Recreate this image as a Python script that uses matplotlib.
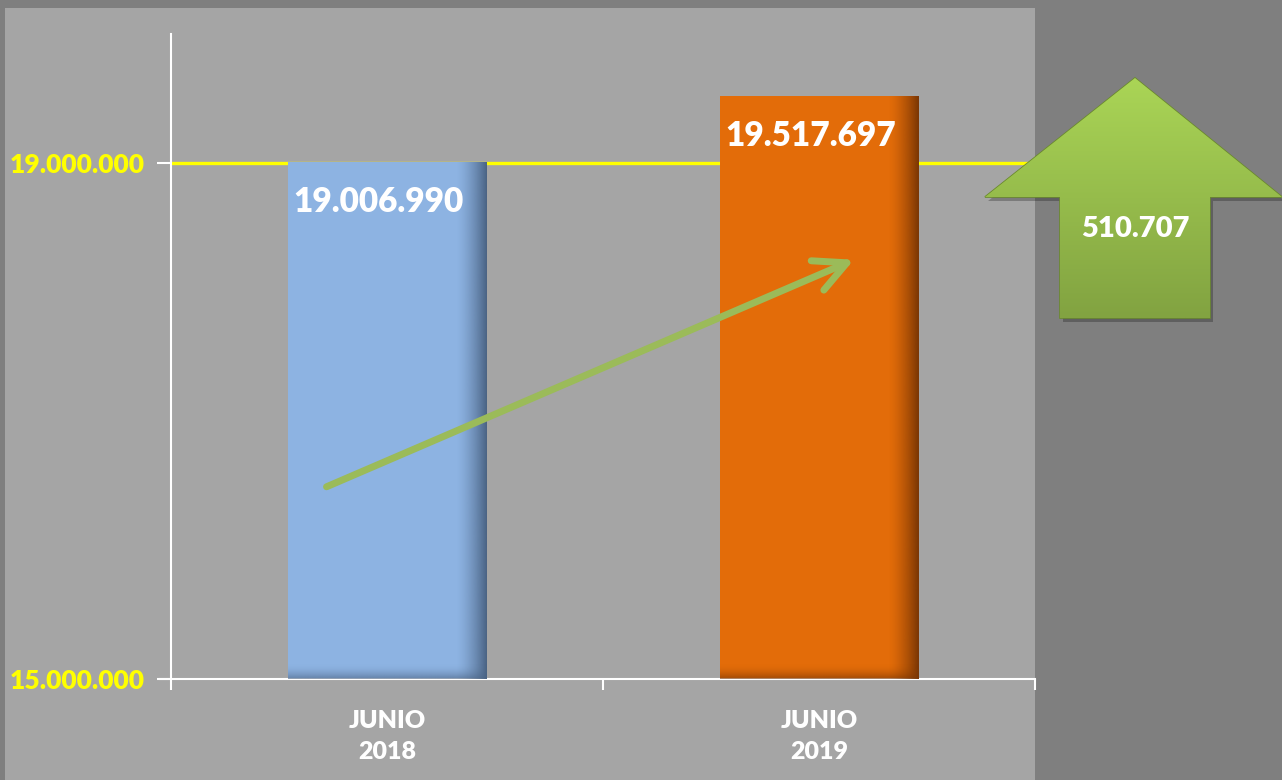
import numpy as np
import matplotlib
matplotlib.use('Agg')
import matplotlib.pyplot as plt
from matplotlib.patches import Polygon, Rectangle

plt.rcParams['font.family'] = ['Lato', 'DejaVu Sans']
plt.rcParams['font.weight'] = 'heavy'

# ── 데이터 ──────────────────────────────────────────────
categories = ['JUNIO\n2018', 'JUNIO\n2019']
values     = [19006990, 19517697]
bar_colors = ['#8db3e2', '#e36c09']
shade_cols = ['#4a6384', '#7a3604']
ref_level  = 19000000
y_ticks    = [15000000, 19000000]
y_min, y_max = 15000000, 20000000

# 추세 화살표 (데이터 좌표)
trend_start = (-0.14, 16490000)
trend_end   = (1.081, 18250000)

W, H = 1282, 780


def fmt(v):
    return f"{v:,}".replace(',', '.')


fig = plt.figure(figsize=(W / 100, H / 100), dpi=100)
fig.patch.set_facecolor('#7f7f7f')

# 배경 패널 (픽셀 좌표)
bg = fig.add_axes([0, 0, 1, 1], zorder=0)
bg.set_xlim(0, W)
bg.set_ylim(H, 0)
bg.axis('off')
bg.add_patch(Rectangle((5, 8), 1030, 780, facecolor='#a5a5a5', edgecolor='none'))

# ── 메인 차트 ──────────────────────────────────────────
left, right = 171 / W, 1035 / W
bottom, top = 1 - 679 / H, 1 - 34 / H
ax = fig.add_axes([left, bottom, right - left, top - bottom], zorder=1)
ax.set_facecolor('none')

x = np.arange(len(categories))
bw = 0.46
ax.axhline(ref_level, color='#ffff00', linewidth=2.4, zorder=1)
ax.bar(x, [v - y_min for v in values], bottom=y_min, width=bw,
       color=bar_colors, zorder=2)

# 막대 오른쪽/아래 음영
for xi, v, sc in zip(x, values, shade_cols):
    rgb = matplotlib.colors.to_rgb(sc)
    grad = np.zeros((1, 64, 4))
    grad[..., :3] = rgb
    grad[0, :, 3] = np.linspace(0, 1, 64) ** 1.5
    ax.imshow(grad, extent=(xi + bw / 2 - 0.07, xi + bw / 2, y_min, v),
              aspect='auto', zorder=3, interpolation='bicubic')
    gb = np.zeros((32, 1, 4))
    gb[..., :3] = rgb
    gb[:, 0, 3] = np.linspace(0, 0.8, 32) ** 2
    ax.imshow(gb, extent=(xi - bw / 2, xi + bw / 2, y_min, y_min + 120000),
              aspect='auto', zorder=3, interpolation='bicubic')
    ax.annotate(fmt(v), xy=(xi, v), xytext=(-6, -29), textcoords='offset points',
                ha='center', va='center', color='white', fontsize=24,
                zorder=5)

ax.annotate('', xy=trend_end, xytext=trend_start,
            arrowprops=dict(arrowstyle='->, head_length=2.3, head_width=1.15',
                            color='#9bbb59', lw=5, shrinkA=0, shrinkB=0,
                            joinstyle='round'), zorder=6)

ax.set_xlim(-0.5, len(categories) - 0.5)
ax.set_ylim(y_min, y_max)
ax.set_yticks(y_ticks)
ax.set_yticklabels([fmt(t) for t in y_ticks])
ax.set_xticks(x)
ax.set_xticklabels(categories, linespacing=1.5)
ax.set_xticks([-0.5, 0.5, 1.5], minor=True)
ax.tick_params(axis='x', which='major', length=0, pad=22, labelsize=18,
               labelcolor='white')
ax.tick_params(axis='x', which='minor', length=8, width=1.5, color='white')
ax.tick_params(axis='y', length=10, width=1.5, color='white', pad=9,
               labelsize=19, labelcolor='#ffff00')
for s in ['top', 'right']:
    ax.spines[s].set_visible(False)
for s in ['left', 'bottom']:
    ax.spines[s].set_color('white')
    ax.spines[s].set_linewidth(1.5)
ax.spines['bottom'].set_bounds(-0.5 - 0.025, 1.5)

# ── 증가분 화살표 ─────────────────────────────────────
ov = fig.add_axes([0, 0, 1, 1], zorder=2)
ov.set_xlim(0, W)
ov.set_ylim(H, 0)
ov.axis('off')
ov.set_facecolor('none')
pts = [(1135, 78), (1282, 197), (1210, 197), (1210, 318),
       (1060, 318), (1060, 197), (985, 197)]
shadow = Polygon([(px + 3, py + 4) for px, py in pts], closed=True,
                 facecolor='black', alpha=0.25, edgecolor='none')
ov.add_patch(shadow)
poly = Polygon(pts, closed=True, facecolor='none', edgecolor='#6b8a2e', lw=1.2)
ov.add_patch(poly)
g = np.linspace(0, 1, 128)[:, None]
c_top = np.array(matplotlib.colors.to_rgb('#aad556'))
c_bot = np.array(matplotlib.colors.to_rgb('#82a341'))
img = c_top[None, None, :] * (1 - g[..., None]) + c_bot[None, None, :] * g[..., None]
im = ov.imshow(img, extent=(985, 1282, 318, 78), aspect='auto', zorder=1)
im.set_clip_path(poly)
ov.set_xlim(0, W)
ov.set_ylim(H, 0)
ov.text(1135, 229, fmt(values[1] - values[0]), ha='center', va='center',
        color='white', fontsize=21, zorder=3)

fig.savefig('out.png', dpi=100, facecolor=fig.get_facecolor())
